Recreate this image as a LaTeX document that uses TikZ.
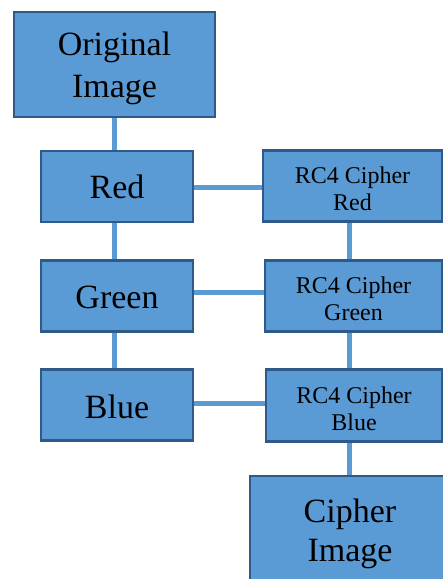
\documentclass[tikz,border=0pt]{standalone}
\usepackage{fontspec}
\setmainfont{Liberation Serif}
\definecolor{boxfill}{HTML}{5B9BD5}
\definecolor{boxedge}{HTML}{2D5A88}
\definecolor{linkcol}{HTML}{5B9BD5}
\begin{document}
\begin{tikzpicture}[x=1pt,y=-1pt,
  box/.style={draw=boxedge,fill=boxfill,line width=2.4pt,inner sep=0pt,align=center,text=black},
  big/.style={box,font=\fontsize{34}{42}\selectfont},
  small/.style={box,font=\fontsize{24}{27}\selectfont},
  link/.style={draw=linkcol,line width=5pt}]
\useasboundingbox (0,0) rectangle (443,579);
\clip (0,0) rectangle (443,579);
% connectors first (behind boxes)
\coordinate (c1) at (114,117);
\coordinate (c2) at (114,150);
\coordinate (c3) at (114,221);
\coordinate (c4) at (114,260);
\coordinate (c5) at (114,331);
\coordinate (c6) at (114,369);
\coordinate (h1a) at (193,187);
\coordinate (h1b) at (263,187);
\coordinate (h2a) at (193,292);
\coordinate (h2b) at (264,292);
\coordinate (h3a) at (193,403);
\coordinate (h3b) at (266,403);
\coordinate (v1a) at (349,221);
\coordinate (v1b) at (349,260);
\coordinate (v2a) at (349,331);
\coordinate (v2b) at (349,369);
\coordinate (v3a) at (349,441);
\coordinate (v3b) at (349,476);
\draw[link] (c1) -- (c2);
\draw[link] (c3) -- (c4);
\draw[link] (c5) -- (c6);
\draw[link] (h1a) -- (h1b);
\draw[link] (h2a) -- (h2b);
\draw[link] (h3a) -- (h3b);
\draw[link] (v1a) -- (v1b);
\draw[link] (v2a) -- (v2b);
\draw[link] (v3a) -- (v3b);
% boxes
\node[big,text height=65pt,text depth=0pt,minimum width=201pt,minimum height=105pt] (orig) at (114.5,64.5) {Original\\Image};
\node[big,text height=24pt,text depth=0pt,minimum width=152pt,minimum height=71pt] (red) at (117,186.3) {Red};
\node[big,text height=24pt,text depth=0pt,minimum width=152pt,minimum height=71pt] (green) at (117,296) {Green};
\node[big,text height=26pt,text depth=0pt,minimum width=152pt,minimum height=71pt] (blue) at (117,405) {Blue};
\node[small,text height=48pt,text depth=0pt,minimum width=179pt,minimum height=71pt] (rc4r) at (352.5,186) {RC4 Cipher\\Red};
\node[small,text height=48pt,text depth=0pt,minimum width=177pt,minimum height=71pt] (rc4g) at (353.5,296) {RC4 Cipher\\Green};
\node[small,text height=49pt,text depth=0pt,minimum width=176pt,minimum height=72pt] (rc4b) at (354,405.5) {RC4 Cipher\\Blue};
\node[box,text height=60pt,text depth=0pt,minimum width=200pt,minimum height=110pt,font=\fontsize{34}{39}\selectfont] (ciph) at (350,531) {Cipher\\Image};
\end{tikzpicture}
\end{document}
